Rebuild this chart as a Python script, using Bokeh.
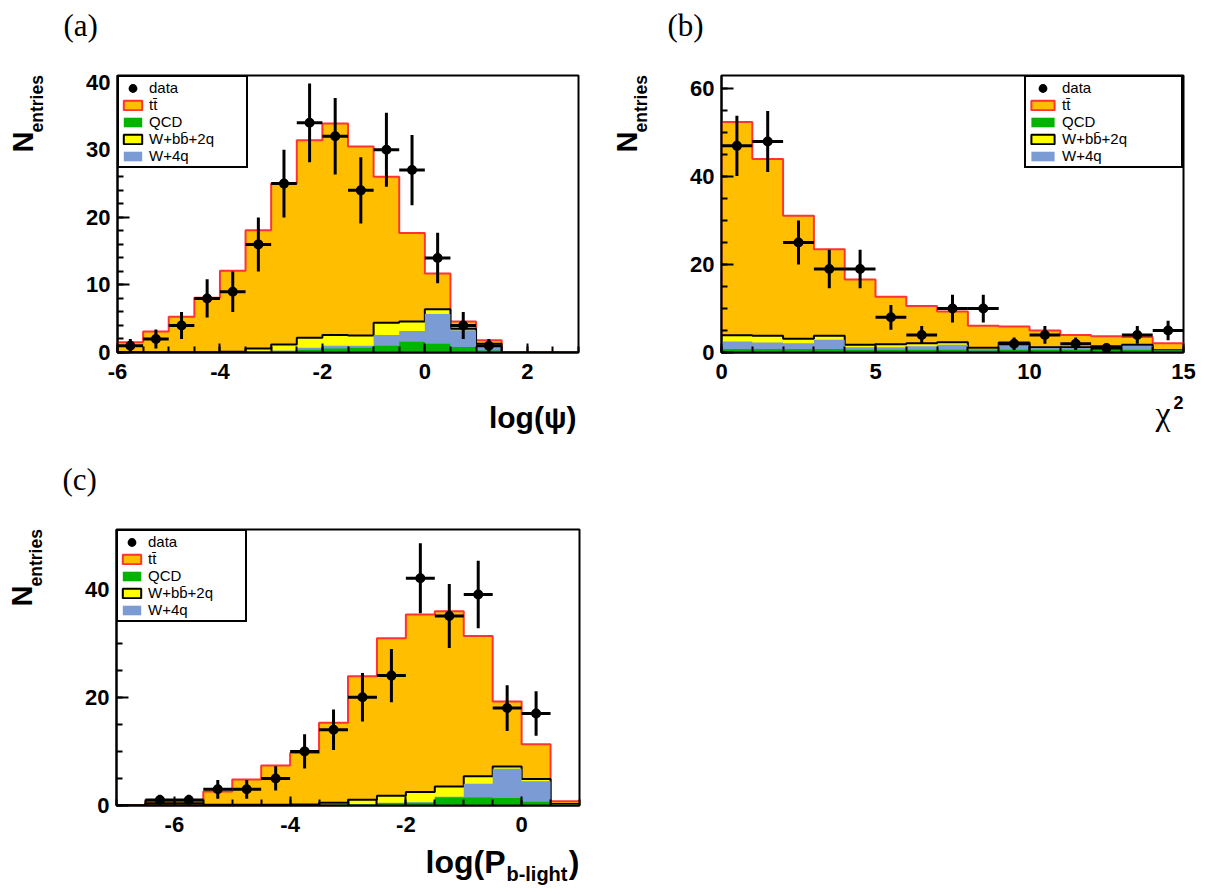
import numpy as np
from bokeh.plotting import figure
from bokeh.models import Range1d, FixedTicker, Label, Legend, LegendItem
from bokeh.layouts import column, row
from bokeh.embed import file_html
from bokeh.resources import INLINE

# ---------------- data ----------------
# panel (a): log(psi), 18 bins of 0.5 from -6 to 3
edges_a = np.arange(-6.0, 3.001, 0.5)
data_a = [1, 2, 4, 8, 9, 16, 25, 34, 32, 24, 30, 27, 14, 4, 1, 0, 0, 0]
qcd_a = [0, 0, 0, 0, 0, 0, 0.2, 0.4, 0.6, 0.7, 1.0, 1.6, 1.3, 0.8, 0.3, 0, 0, 0]
w4q_a = [0, 0, 0, 0, 0, 0.05, 0.1, 0.3, 0.4, 0.3, 1.6, 1.6, 4.4, 2.5, 0.9, 0, 0, 0]
wbb_a = [0.05, 0.05, 0.05, 0.05, 0.1, 0.55, 0.9, 1.5, 1.6, 1.5, 1.8, 1.4, 0.7, 0.2, 0.1, 0, 0, 0]
tt_a = [1.45, 3.05, 5.25, 8.05, 12.0, 17.5, 23.8, 29.2, 31.3, 28.0, 21.6, 13.1, 5.3, 1.1, 0.5, 0, 0, 0]

# panel (b): chi^2, 15 bins of 1 from 0 to 15
edges_b = np.arange(0.0, 15.001, 1.0)
data_b = [47, 48, 25, 19, 19, 8, 4, 10, 10, 2, 4, 2, 1, 4, 5]
qcd_b = [0.8, 0.8, 0.8, 0.8, 0.6, 0.6, 0.6, 0.6, 0.45, 0.6, 0.6, 0.6, 0.8, 0.6, 0.45]
w4q_b = [1.7, 1.5, 1.3, 2.1, 0.6, 0.6, 0.8, 1.15, 0.35, 1.5, 0.4, 0.4, 0.2, 0.9, 0.0]
wbb_b = [1.4, 1.5, 1.0, 0.9, 0.55, 0.7, 0.7, 0.6, 0.3, 0.2, 0.2, 0.2, 0.4, 0.25, 0.05]
tt_b = [48.5, 40.2, 28.0, 19.7, 14.85, 10.8, 8.5, 6.95, 5.0, 3.6, 3.8, 2.8, 2.3, 1.75, 1.6]

# panel (c): log(P_b-light), 16 bins of 0.5 from -7 to 1
edges_c = np.arange(-7.0, 1.001, 0.5)
data_c = [0, 1, 1, 3, 3, 5, 10, 14, 20, 24, 42, 35, 39, 18, 17, 0]
qcd_c = [0, 0, 0, 0, 0, 0, 0.05, 0.1, 0.2, 0.4, 0.5, 1.5, 1.5, 1.4, 0.7, 0.2]
w4q_c = [0, 0.05, 0.05, 0.05, 0.05, 0.05, 0.05, 0.05, 0.1, 0.1, 0.1, 0.1, 2.5, 5.4, 3.8, 0.05]
wbb_c = [0.05, 0.35, 0.35, 0.1, 0.1, 0.1, 0.1, 0.35, 0.75, 1.3, 1.9, 1.9, 1.4, 0.4, 0.4, 0.05]
tt_c = [0.05, 0.4, 0.5, 2.45, 4.65, 7.25, 9.5, 14.8, 22.85, 29.1, 32.8, 32.4, 25.9, 12.0, 6.4, 0.5]

legend_labels = ["data", "t\u0074\u0304", "QCD", "W+bb\u0304+2q", "W+4q"]

ORANGE = "#FFBF00"
RED = "#FF3333"
GREEN = "#00B400"
YELLOW = "#FFFF00"
BLUE = "#7B9BD4"

SANS = "Liberation Sans"
SERIF = "Liberation Serif"


def step_poly(edges, cum):
    xs = [edges[0]]
    ys = [0.0]
    for i, c in enumerate(cum):
        xs += [edges[i], edges[i + 1]]
        ys += [c, c]
    xs.append(edges[-1])
    ys.append(0.0)
    return xs, ys


def add_label(p, side, text, x, y, xo, yo, fs, font=SANS, style="bold",
              align="left", angle=0.0):
    # (xo, yo) locate the text baseline; Bokeh anchors the box centre,
    # so move the anchor from the baseline to the centre of the text box.
    shift = 0.3465 * fs
    if angle == 0.0:
        yo = yo + shift
    else:
        xo = xo - shift
    p.add_layout(Label(x=x, y=y, x_offset=xo, y_offset=yo, text=text,
                       text_font=font, text_font_size=f"{fs}px",
                       text_font_style=style, text_align=align,
                       text_baseline="middle", text_color="black",
                       angle=angle), side)


def make_panel(tag, edges, data, qcd, w4q, wbb, tt, xr, yr, xticks, xminor,
               yticks, yminor, borders, legend_loc, glyph_w, label_w, xlabel):
    bl, br, bt, bb = borders
    p = figure(width=605, height=447, x_range=Range1d(*xr),
               y_range=Range1d(*yr), output_backend="svg",
               toolbar_location=None, min_border_left=bl,
               min_border_right=br, min_border_top=bt, min_border_bottom=bb)
    p.background_fill_color = "white"
    p.border_fill_color = "white"
    p.outline_line_color = "black"
    p.outline_line_width = 2
    p.xgrid.visible = False
    p.ygrid.visible = False

    edges = np.asarray(edges)
    c1 = np.asarray(qcd, float)
    c2 = c1 + np.asarray(w4q, float)
    c3 = c2 + np.asarray(wbb, float)
    c4 = c3 + np.asarray(tt, float)

    xs, y4 = step_poly(edges, c4)
    _, y3 = step_poly(edges, c3)
    _, y2 = step_poly(edges, c2)
    _, y1 = step_poly(edges, c1)

    r_tt = p.patch(xs, y4, fill_color=ORANGE, line_color=RED, line_width=2)
    r_wbb = p.patch(xs, y3, fill_color=YELLOW, line_color="black", line_width=2)
    r_w4q = p.patch(xs, y2, fill_color=BLUE, line_color=None)
    r_qcd = p.patch(xs, y1, fill_color=GREEN, line_color=None)

    d = np.asarray(data, float)
    m = d > 0
    centers = 0.5 * (edges[:-1] + edges[1:])
    lo = edges[:-1][m]
    hi = edges[1:][m]
    cx = centers[m]
    n = d[m]
    err = np.sqrt(n)
    p.segment(x0=cx, y0=n - err, x1=cx, y1=n + err, line_color="black", line_width=3)
    p.segment(x0=lo, y0=n, x1=hi, y1=n, line_color="black", line_width=3)
    r_data = p.scatter(cx, n, marker="circle", size=6, fill_color="black",
                       line_color="black", line_width=4)

    items = [LegendItem(label=legend_labels[0], renderers=[r_data]),
             LegendItem(label=legend_labels[1], renderers=[r_tt]),
             LegendItem(label=legend_labels[2], renderers=[r_qcd]),
             LegendItem(label=legend_labels[3], renderers=[r_wbb]),
             LegendItem(label=legend_labels[4], renderers=[r_w4q])]
    leg = Legend(items=items, location=legend_loc, margin=0, padding=2,
                 spacing=0, border_line_color="black", border_line_width=2,
                 border_line_alpha=1.0,
                 background_fill_color="white", background_fill_alpha=1.0,
                 label_text_font=SANS, label_text_font_size="15px",
                 label_text_color="black",
                 glyph_width=glyph_w, glyph_height=12, label_height=17,
                 label_width=label_w, label_standoff=5)
    p.add_layout(leg)

    for ax, ticks, minor, tin, tmin, stand in (
            (p.xaxis[0], xticks, xminor, 9, 6, 11),
            (p.yaxis[0], yticks, yminor, 12, 6, 7)):
        ax.ticker = FixedTicker(ticks=list(ticks), minor_ticks=list(minor))
        ax.major_label_overrides = {t: f"{t:g}" for t in ticks}
        ax.axis_line_width = 2
        ax.axis_line_color = "black"
        ax.major_tick_in = tin
        ax.major_tick_out = 0
        ax.minor_tick_in = tmin
        ax.minor_tick_out = 0
        ax.major_tick_line_width = 2
        ax.minor_tick_line_width = 2
        ax.major_label_text_font = SANS
        ax.major_label_text_font_size = "22px"
        ax.major_label_text_font_style = "bold"
        ax.major_label_text_color = "black"
        ax.major_label_standoff = stand

    # panel tag
    add_label(p, "above", tag, xr[0], yr[1], -54, 39, 31, font=SERIF, style="normal")
    # y-axis title N_entries
    add_label(p, "left", "N", xr[0], yr[1], -84, -77, 29, angle=np.pi / 2)
    add_label(p, "left", "entries", xr[0], yr[1], -74, -57, 17.5, angle=np.pi / 2)
    # x-axis title pieces
    for side, text, xo, yo, fs, font, style in xlabel:
        add_label(p, side, text, xr[1], yr[0], xo, yo, fs, font=font, style=style,
                  align="right")
    return p


pa = make_panel("(a)", edges_a, data_a, qcd_a, w4q_a, wbb_a, tt_a,
                (-6, 3), (0, 41), [-6, -4, -2, 0, 2], np.arange(-6, 3.01, 0.5),
                [0, 10, 20, 30, 40], np.arange(0, 41.01, 2),
                (117, 27, 75, 95), "top_left", 23, 95,
                [("below", "log(\u03c8)", -2, -75, 30, SANS, "bold")])

pb = make_panel("(b)", edges_b, data_b, qcd_b, w4q_b, wbb_b, tt_b,
                (0, 15), (0, 63), [0, 5, 10, 15], np.arange(0, 15.01, 1),
                [0, 20, 40, 60], np.arange(0, 63.01, 5),
                (116, 27, 75, 95), "top_right", 29, 117,
                [("below", "\u03c7", -13, -73, 34, SERIF, "normal"),
                 ("above", "2", 0, -56, 18, SANS, "bold")])

pc = make_panel("(c)", edges_c, data_c, qcd_c, w4q_c, wbb_c, tt_c,
                (-7, 1), (0, 51), [-6, -4, -2, 0], np.arange(-7, 1.01, 0.5),
                [0, 20, 40], np.arange(0, 51.01, 5),
                (116, 26, 82, 89), "top_left", 23, 95,
                [("below", "log(P", -74, -68, 32, SANS, "bold"),
                 ("above", "b-light", -12, -75, 20, SANS, "bold"),
                 ("right", ")", 0, -68, 32, SANS, "bold")])

layout = column(row(pa, pb), pc)
open("out.html", "w").write(file_html(layout, INLINE))
